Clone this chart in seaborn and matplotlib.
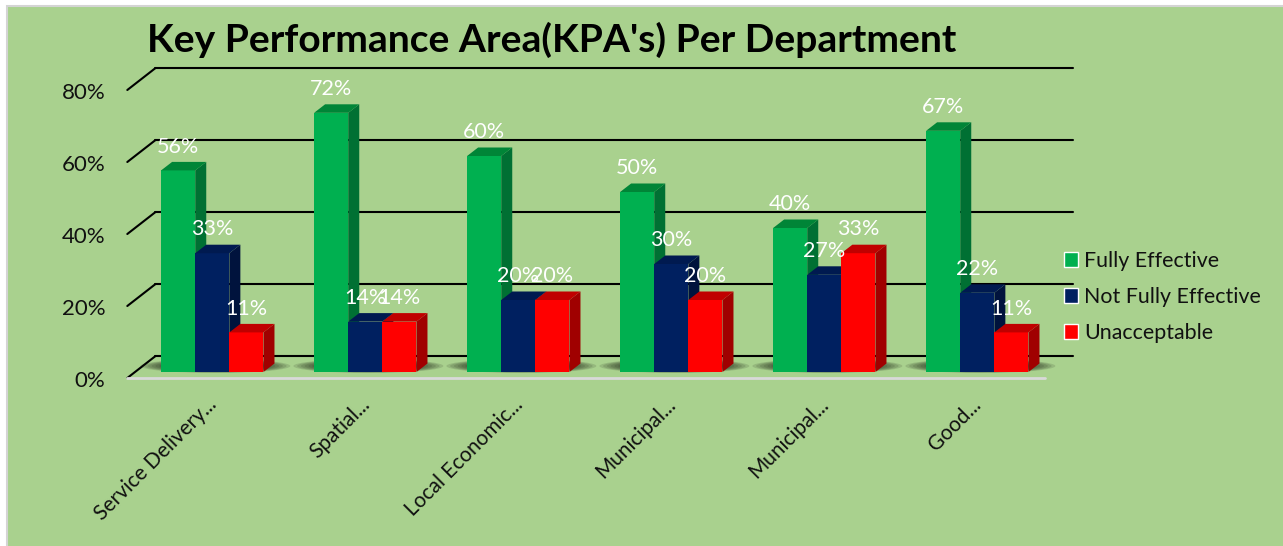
import pandas as pd
import numpy as np
import matplotlib
matplotlib.use("Agg")
import matplotlib.pyplot as plt
import matplotlib.transforms as mtrans
from matplotlib.patches import Polygon, Rectangle, Ellipse
import seaborn as sns

departments = ["Service Delivery", "Spatial Rationale", "Local Economic Development",
               "Municipal Financial Viability", "Municipal Transformation", "Good Governance"]
tick_labels = ["Service Delivery...", "Spatial...", "Local Economic...",
               "Municipal...", "Municipal...", "Good..."]
fully_effective = [56, 72, 60, 50, 40, 67]
not_fully_effective = [33, 14, 20, 30, 27, 22]
unacceptable = [11, 14, 20, 20, 33, 11]
y_ticks = [0, 20, 40, 60, 80]

BG = "#A9D18E"
front_cols = ["#00B050", "#002060", "#FF0000"]
side_cols = ["#007033", "#00133D", "#A00000"]
top_cols = ["#008537", "#001A50", "#C00000"]

W, H = 1283, 546
sx = 153.0   # px per category
sy = 3.6     # px per percent

sns.set_theme(style="white")
plt.rcParams["font.family"] = ["Lato", "DejaVu Sans"]

df = pd.DataFrame({"Department": departments,
                   "Fully Effective": fully_effective,
                   "Not Fully Effective": not_fully_effective,
                   "Unacceptable": unacceptable})
long = df.melt(id_vars="Department", var_name="Rating", value_name="Share")

fig = plt.figure(figsize=(W / 100, H / 100), dpi=100, facecolor="white")
fig.add_artist(Rectangle((6.5 / W, -0.01), 1.02, 1 - 5.5 / H + 0.01, transform=fig.transFigure,
                         facecolor=BG, edgecolor="#D4D4D4", linewidth=1.5, zorder=-5))
ax = fig.add_axes([135.8 / W, (H - 372) / H, 6 * sx / W, 80 * sy / H])
ax.patch.set_alpha(0)

sns.barplot(data=long, x="Department", y="Share", hue="Rating", order=departments,
            palette=front_cols, width=0.669, gap=0, saturation=1, ax=ax, zorder=3)
ax.set_xlim(-0.5, 5.5)
ax.set_ylim(0, 80)
ax.set_xlabel("")
ax.set_ylabel("")
sns.despine(ax=ax, left=True, bottom=True)

# back wall gridlines and the diagonals coming forward to the axis
bx, by = 19.5 / sx, 15.8 / sy
fx, fy = -8.5 / sx, -6.0 / sy
for t in y_ticks:
    ax.plot([-0.5 + bx, 5.5 + bx], [t + by, t + by], color="black", lw=1.5, zorder=1, clip_on=False)
    ax.plot([-0.5 + fx, -0.5 + bx], [t + fy, t + by], color="black", lw=1.5, zorder=1, clip_on=False)
ax.plot([-0.5 + fx, 5.5 + fx], [fy, fy], color="#D9D9D9", lw=2, zorder=1.5, clip_on=False)

# soft shadow under each group of bars
for i in range(len(departments)):
    for f in np.linspace(1, 0.6, 9):
        ax.add_patch(Ellipse((i + 0.02, 6 / sy), 0.98 * f, 14 / sy * f, facecolor="#1E2618",
                             edgecolor="none", alpha=0.14, zorder=2, clip_on=False))

# depth faces of the bars
dx, dy = 11.0 / sx, 8.5 / sy
for k, cont in enumerate(ax.containers):
    for bar in cont:
        x0, x1 = bar.get_x(), bar.get_x() + bar.get_width()
        h = bar.get_height()
        bar.set_zorder(3 + k)
        bar.set_clip_on(False)
        bar.set_edgecolor("none")
        ax.add_patch(Polygon([(x1, 0), (x1 + dx, dy), (x1 + dx, h + dy), (x1, h)],
                             facecolor=side_cols[k], edgecolor="none", zorder=3 + k, clip_on=False))
        ax.add_patch(Polygon([(x0, h), (x0 + dx, h + dy), (x1 + dx, h + dy), (x1, h)],
                             facecolor=top_cols[k], edgecolor="none", zorder=3 + k, clip_on=False))
    lab = ax.bar_label(cont, fmt="%g%%", color="white", fontsize=15.5, padding=10)
    for t in lab:
        t.set_zorder(10)
        t.set_clip_on(False)

ax.set_yticks(y_ticks)
ax.set_yticklabels([f"{t}%" for t in y_ticks], fontsize=16, color="#111111")
ax.tick_params(axis="y", length=0, pad=22)
shift = mtrans.ScaledTranslation(0, -7 / 100, fig.dpi_scale_trans)
for lbl in ax.get_yticklabels():
    lbl.set_transform(lbl.get_transform() + shift)

ax.set_xticks(range(len(tick_labels)))
ax.set_xticklabels(tick_labels, rotation=45, ha="right", va="top", rotation_mode="anchor",
                   fontsize=15, color="#111111")
ax.tick_params(axis="x", length=0, pad=16)
shift_x = mtrans.ScaledTranslation(-6 / 100, 0, fig.dpi_scale_trans)
for lbl in ax.get_xticklabels():
    lbl.set_transform(lbl.get_transform() + shift_x)

hnd, lb = ax.get_legend_handles_labels()
ax.legend(hnd, lb, loc="upper left", bbox_to_anchor=(1064 / W, (H - 251) / H),
          bbox_transform=fig.transFigure, frameon=False, fontsize=15.4, handlelength=0.65,
          handleheight=0.65, handletextpad=0.28, labelspacing=0.75, borderpad=0, borderaxespad=0,
          labelcolor="#111111")

fig.text(147 / W, (H - 40) / H, "Key Performance Area(KPA's) Per Department", fontsize=28.1,
         fontweight="bold", color="black", ha="left", va="center")

fig.savefig("out.png", dpi=100, facecolor=fig.get_facecolor())
